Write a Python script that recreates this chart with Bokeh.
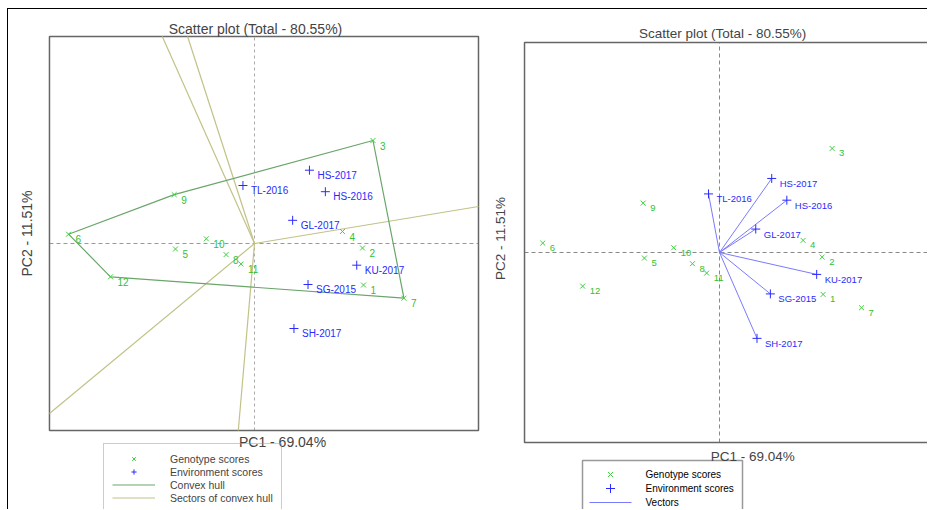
import math
from bokeh.plotting import figure
from bokeh.models import Range1d, Label, Legend, LegendItem, ColumnDataSource
from bokeh.layouts import row
from bokeh.embed import file_html
from bokeh.resources import INLINE
from bokeh.core.properties import value

# ---------------- data ----------------
title_text = "Scatter plot (Total - 80.55%)"
x_title = "PC1 - 69.04%"
y_title = "PC2 - 11.51%"

genotypes = ["1", "2", "3", "4", "5", "6", "7", "8", "9", "10", "11", "12"]
gen_pc1 = [1.000, 0.991, 1.087, 0.807, -0.725, -1.706, 1.371, -0.261, -0.737, -0.442, -0.124, -1.321]
gen_pc2 = [-0.415, -0.045, 1.030, 0.120, -0.055, 0.093, -0.547, -0.111, 0.489, 0.047, -0.204, -0.333]

environments = ["HS-2017", "TL-2016", "HS-2016", "GL-2017", "KU-2017", "SG-2015", "SH-2017"]
env_pc1 = [0.504, -0.106, 0.650, 0.350, 0.938, 0.491, 0.362]
env_pc2 = [0.733, 0.580, 0.518, 0.232, -0.217, -0.410, -0.850]

legend_left = ["Genotype scores", "Environment scores", "Convex hull", "Sectors of convex hull"]
legend_right = ["Genotype scores", "Environment scores", "Vectors"]

# plotting limits of the biplot box (PC1 min, max, PC2 min, max)
box_left = (-1.881, 2.055, -1.870, 2.070)
box_right = (-1.882, 2.055, -1.881, 2.079)

FONT_NAME = "Liberation Sans"
FONT = value(FONT_NAME)
GREEN = "#3fcf3f"
GREEN_TXT = "#33c033"
BLUE = "#2a2aff"
HULL = "#6aa56a"
SECTOR = "#c2c288"
VECTOR = "#7a7aff"
FRAME = "#666666"


def convex_hull(pts):
    pts = sorted(pts)

    def cross(o, a, b):
        return (a[0] - o[0]) * (b[1] - o[1]) - (a[1] - o[1]) * (b[0] - o[0])

    lower = []
    for p in pts:
        while len(lower) >= 2 and cross(lower[-2], lower[-1], p) <= 0:
            lower.pop()
        lower.append(p)
    upper = []
    for p in reversed(pts):
        while len(upper) >= 2 and cross(upper[-2], upper[-1], p) <= 0:
            upper.pop()
        upper.append(p)
    return lower[:-1] + upper[:-1]


def ray_to_box(ux, uy, box):
    x0, x1, y0, y1 = box
    ts = []
    if ux > 0:
        ts.append(x1 / ux)
    if ux < 0:
        ts.append(x0 / ux)
    if uy > 0:
        ts.append(y1 / uy)
    if uy < 0:
        ts.append(y0 / uy)
    t = min(ts)
    return ux * t, uy * t


hull = convex_hull(list(zip(gen_pc1, gen_pc2)))
hull_x = [p[0] for p in hull] + [hull[0][0]]
hull_y = [p[1] for p in hull] + [hull[0][1]]

# sector rays: perpendicular from origin to each hull edge, clipped to the box
sec_x1, sec_y1 = [], []
for i in range(len(hull)):
    a = hull[i]
    b = hull[(i + 1) % len(hull)]
    dx, dy = b[0] - a[0], b[1] - a[1]
    t = -(a[0] * dx + a[1] * dy) / (dx * dx + dy * dy)
    fx, fy = a[0] + t * dx, a[1] + t * dy
    ex, ey = ray_to_box(fx, fy, box_left)
    sec_x1.append(ex)
    sec_y1.append(ey)


def base_fig(width, height, xr, yr, box, vdash, hdash):
    p = figure(width=width, height=height, x_range=Range1d(*xr), y_range=Range1d(*yr),
               output_backend="svg", toolbar_location=None, tools="",
               x_axis_location=None, y_axis_location=None, title=None,
               min_border=0)
    p.xgrid.visible = False
    p.ygrid.visible = False
    p.outline_line_color = None
    p.background_fill_color = "white"
    p.border_fill_color = "white"
    x0, x1, y0, y1 = box
    p.segment(x0=[0], y0=[y0], x1=[0], y1=[y1], line_color=vdash[0], line_dash=vdash[1], line_width=1)
    p.segment(x0=[x0], y0=[0], x1=[x1], y1=[0], line_color=hdash[0], line_dash=hdash[1], line_width=1)
    p.quad(left=[x0], right=[x1], bottom=[y0], top=[y1], fill_color=None,
           line_color=FRAME, line_width=1.5)
    return p


def add_points(p, fs, xo):
    gen_src = ColumnDataSource(dict(x=gen_pc1, y=gen_pc2, name=genotypes))
    env_src = ColumnDataSource(dict(x=env_pc1, y=env_pc2, name=environments))
    r_gen = p.scatter("x", "y", source=gen_src, marker="x", size=7,
                      line_color=GREEN, line_width=1)
    r_env = p.scatter("x", "y", source=env_src, marker="cross", size=9,
                      line_color=BLUE, line_width=1)
    p.text("x", "y", text="name", source=gen_src, x_offset=xo, y_offset=5,
           text_font=FONT, text_font_size=fs, text_color=GREEN_TXT,
           text_baseline="middle", text_align="left")
    p.text("x", "y", text="name", source=env_src, x_offset=xo + 1, y_offset=5,
           text_font=FONT, text_font_size=fs, text_color=BLUE,
           text_baseline="middle", text_align="left")
    return r_gen, r_env


def add_titles(p, fs, tpos, xpos, ypos):
    p.add_layout(Label(x=tpos[0], y=tpos[1], text=title_text, text_font=FONT_NAME,
                       text_font_size=fs, text_align="center", text_baseline="middle"))
    p.add_layout(Label(x=xpos[0], y=xpos[1], text=x_title, text_font=FONT_NAME,
                       text_font_size=fs, text_align="center", text_baseline="middle"))
    p.add_layout(Label(x=ypos[0], y=ypos[1], text=y_title, text_font=FONT_NAME, angle=math.pi / 2,
                       text_font_size=fs, text_align="center", text_baseline="middle"))


# ---------------- left panel: which-won-where ----------------
p1 = base_fig(478, 500, (-2.2569, 2.1284), (-2.66, 2.34), box_left,
              ("#aaaaaa", "3 3"), ("#999999", "4 3"))
r_sec = p1.segment(x0=0, y0=0, x1=sec_x1, y1=sec_y1, line_color=SECTOR, line_width=1.2)
r_hull = p1.line(hull_x, hull_y, line_color=HULL, line_width=1.2)
g1, e1 = add_points(p1, "10px", 7)
add_titles(p1, "14px", (0.009, 2.15), (0.257, -1.98), (-2.083, 0.10))

leg1 = Legend(items=[LegendItem(label=legend_left[0], renderers=[g1]),
                     LegendItem(label=legend_left[1], renderers=[e1]),
                     LegendItem(label=legend_left[2], renderers=[r_hull]),
                     LegendItem(label=legend_left[3], renderers=[r_sec])],
              location=(95, -4), orientation="vertical", margin=0,
              glyph_width=43, glyph_height=13, label_height=13, label_standoff=15,
              padding=8, spacing=0, label_text_font=FONT_NAME, label_text_font_size="10.5px",
              border_line_color="#999999", border_line_width=1.5, background_fill_alpha=0)
p1.add_layout(leg1)

# ---------------- right panel: vectors ----------------
P2_W, P2_H = 441, 500
P2_XR = (-2.2490, 2.0077)
P2_YR = (-2.5446, 2.4059)
p2 = base_fig(P2_W, P2_H, P2_XR, P2_YR, box_right, ("#888888", "4 3"), ("#888888", "4 3"))
vec_src = ColumnDataSource(dict(x0=[0.0] * len(env_pc1), y0=[0.0] * len(env_pc2),
                                x1=env_pc1, y1=env_pc2))
p2.segment(x0="x0", y0="y0", x1="x1", y1="y1", source=vec_src, line_color=VECTOR, line_width=1)
g2, e2 = add_points(p2, "9.5px", 7)
add_titles(p2, "13.5px", (0.03, 2.168), (0.32, -2.02), (-2.114, 0.139))


# legend key of the right panel, laid out in canvas pixels and converted with the ranges
def cx(px):
    return P2_XR[0] + px / P2_W * (P2_XR[1] - P2_XR[0])


def cy(py):
    return P2_YR[1] - py / P2_H * (P2_YR[1] - P2_YR[0])


rows_py = [465, 479, 493]
p2.quad(left=[cx(96)], right=[cx(256)], top=[cy(451)], bottom=[cy(512)], fill_color=None,
        line_color="#999999", line_width=1.5)
p2.scatter(x=[cx(124)], y=[cy(rows_py[0])], marker="x", size=7, line_color=GREEN, line_width=1)
p2.scatter(x=[cx(124)], y=[cy(rows_py[1])], marker="cross", size=9, line_color=BLUE, line_width=1)
p2.segment(x0=[cx(103)], y0=[cy(rows_py[2])], x1=[cx(145)], y1=[cy(rows_py[2])],
           line_color=VECTOR, line_width=1)
p2.text(x=[cx(159)] * 3, y=[cy(v) for v in rows_py], text=legend_right,
        text_font=FONT, text_font_size="10px", text_color="black",
        text_baseline="middle", text_align="left")

layout = row(p1, p2, margin=(8, 0, 0, 7),
             styles={"border-top": "1px solid black", "border-left": "1px solid black"})

open("out.html", "w").write(file_html(layout, INLINE))
